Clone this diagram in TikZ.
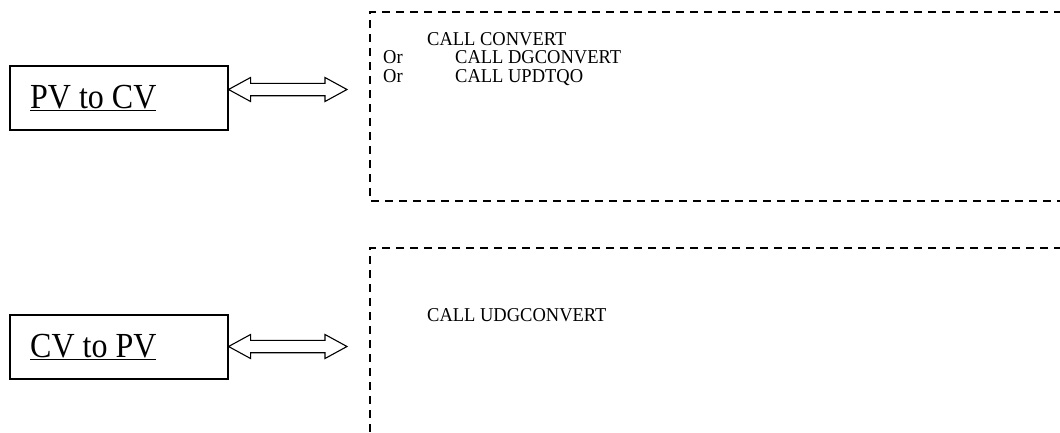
\documentclass[tikz,border=0pt]{standalone}
\usepackage{fontspec}
\setmainfont{Liberation Serif}
\usetikzlibrary{calc}
\newcommand{\tallbox}[2]{\scalebox{1}[#1]{#2}}
\tikzset{
  labelbox/.style={draw, line width=1.1pt, minimum width=218pt, minimum height=64pt, inner sep=0pt},
  bigtext/.style={font=\fontsize{32}{34}\selectfont, anchor=base west, inner sep=0pt},
  codetext/.style={font=\fontsize{18.5}{20}\selectfont, anchor=base west, inner sep=0pt},
  dashframe/.style={line width=1.6pt, dash pattern=on 8pt off 6pt},
  hollowarrow/.style={draw, line width=1.1pt, fill=white, line join=miter}
}
\begin{document}
\begin{tikzpicture}[x=1pt,y=-1pt]
\useasboundingbox (0,0) rectangle (1060,432);
\clip (0,0) rectangle (1060,432);
% label boxes
\node[labelbox] (pv) at (119,98) {};
\node[labelbox] (cv) at (119,347) {};
\node[bigtext] (pvt) at (30,108) {\tallbox{1.1}{\underline{PV to CV}}};
\node[bigtext] (cvt) at (30,357) {\tallbox{1.1}{\underline{CV to PV}}};
% dashed frames (open at right / bottom)
\coordinate (f1a) at (1062,12);
\coordinate (f1b) at (370,12);
\coordinate (f1c) at (370,201);
\coordinate (f1d) at (1062,201);
\draw[dashframe] (f1a) -- (f1b) -- (f1c) -- (f1d);
\coordinate (f2a) at (1062,248);
\coordinate (f2b) at (370,248);
\coordinate (f2c) at (370,434);
\draw[dashframe] (f2a) -- (f2b) -- (f2c);
% texts in frames
\node[codetext] (c1) at (427,45) {\tallbox{1.06}{CALL CONVERT}};
\node[codetext] (o2) at (383,63.5) {\tallbox{1.06}{Or}};
\node[codetext] (c2) at (455,63.5) {\tallbox{1.06}{CALL DGCONVERT}};
\node[codetext] (o3) at (383,82) {\tallbox{1.06}{Or}};
\node[codetext] (c3) at (455,82) {\tallbox{1.06}{CALL UPDTQO}};
\node[codetext] (c4) at (427,321) {\tallbox{1.06}{CALL UDGCONVERT}};
% double hollow arrows
\coordinate (t1) at (347,89.5);
\coordinate (t2) at (347,346.5);
\foreach \b/\t in {pv/t1, cv/t2}{
  \draw[hollowarrow] let \p1=(\b.east |- \t), \p2=(\t) in
    (\p1) -- (\x1+22,\y1-12) -- (\x1+22,\y1-6.2) -- (\x2-22,\y2-6.2) -- (\x2-22,\y2-12)
    -- (\p2) -- (\x2-22,\y2+12) -- (\x2-22,\y2+6.2) -- (\x1+22,\y1+6.2) -- (\x1+22,\y1+12) -- cycle;
}
\end{tikzpicture}
\end{document}
